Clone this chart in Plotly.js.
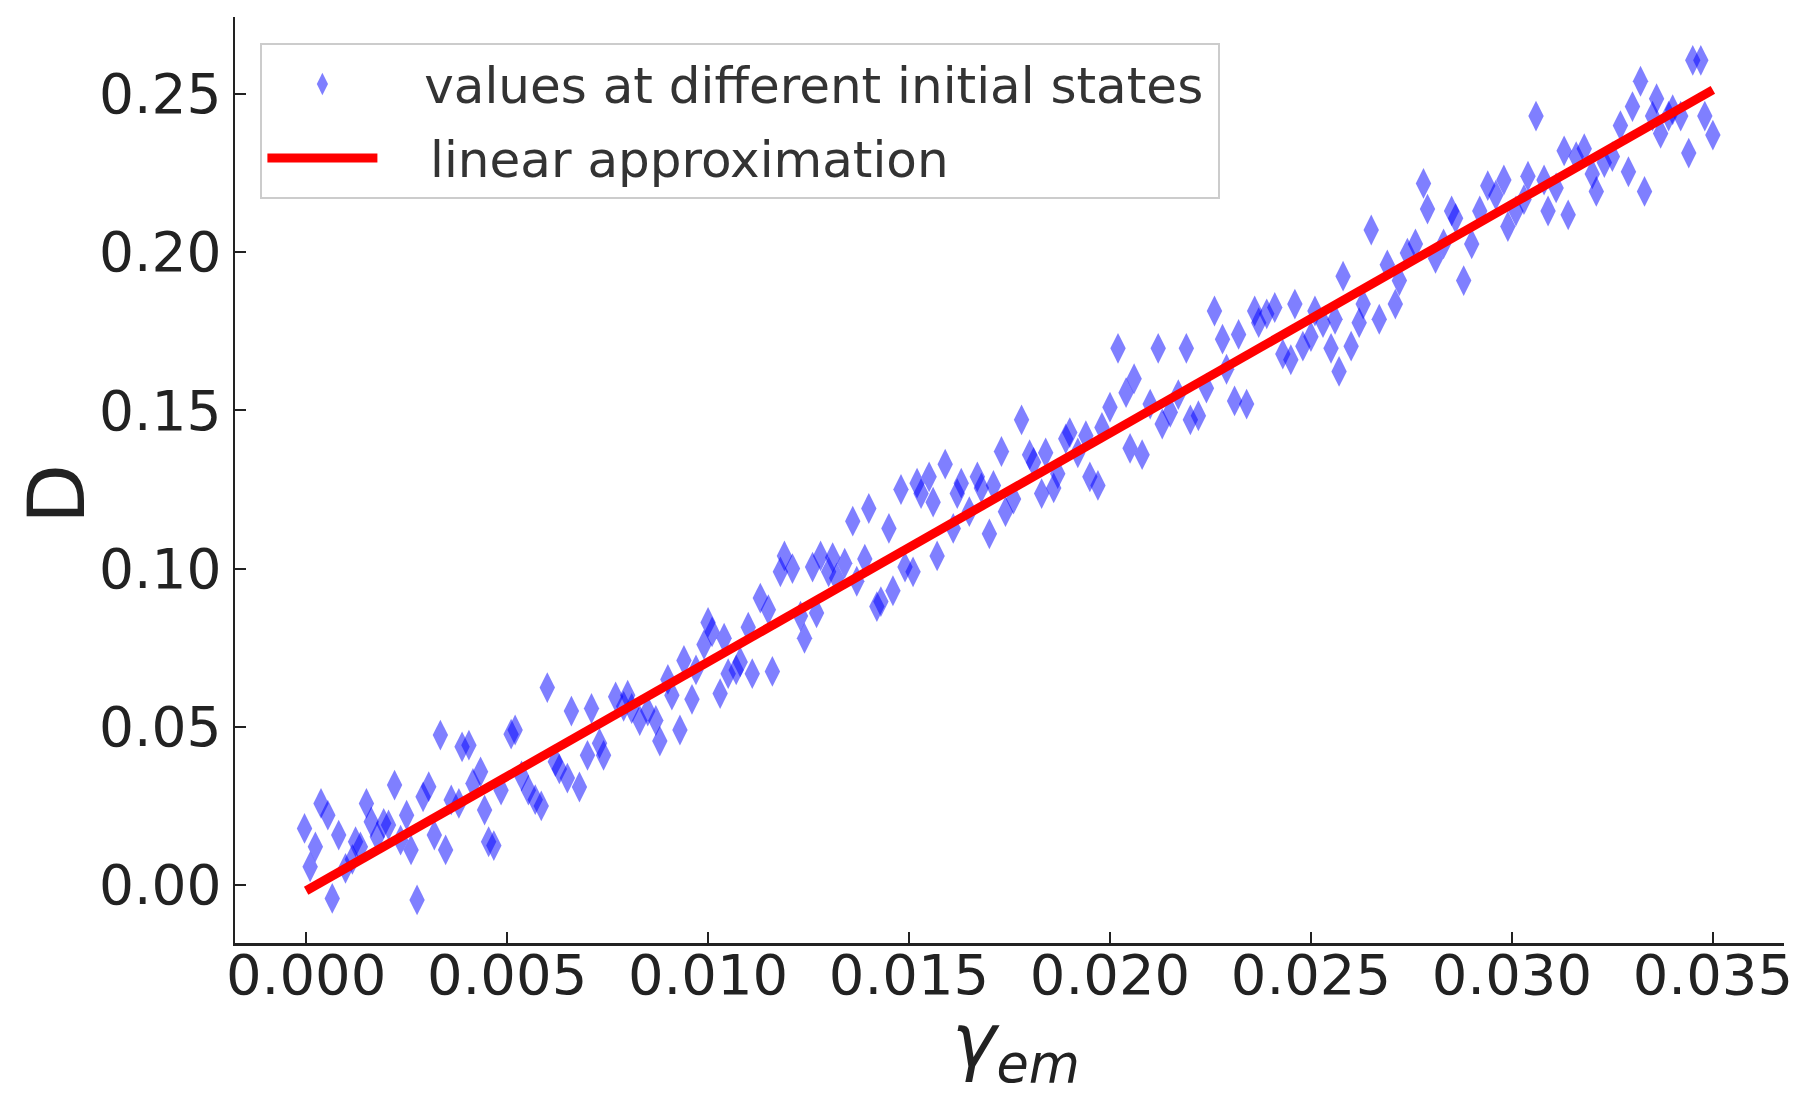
<!DOCTYPE html>
<html>
<head>
<meta charset="utf-8">
<script src="https://cdn.plot.ly/plotly-3.0.1.min.js"></script>
<style>
  html, body { margin: 0; padding: 0; background: #fff; }
  #chart { width: 1812px; height: 1107px; }
</style>
</head>
<body>
<div id="chart"></div>
<script>
// scatter: values at different initial states
const gammaEm = [
  -0.00004, 0.00010, 0.00023, 0.00037, 0.00054, 0.00065, 0.00081, 0.00098, 0.00115, 0.00123,
  0.00135, 0.00150, 0.00162, 0.00177, 0.00193, 0.00205, 0.00220, 0.00235, 0.00250, 0.00261,
  0.00276, 0.00291, 0.00305, 0.00319, 0.00334, 0.00347, 0.00361, 0.00380, 0.00388, 0.00405,
  0.00415, 0.00434, 0.00444, 0.00454, 0.00467, 0.00485, 0.00510, 0.00520, 0.00536, 0.00553,
  0.00570, 0.00585, 0.00600, 0.00620, 0.00630, 0.00650, 0.00660, 0.00680, 0.00700, 0.00710,
  0.00730, 0.00740, 0.00770, 0.00790, 0.00800, 0.00810, 0.00830, 0.00850, 0.00870, 0.00880,
  0.00900, 0.00910, 0.00930, 0.00940, 0.00960, 0.00970, 0.00990, 0.01000, 0.01010, 0.01030,
  0.01040, 0.01050, 0.01070, 0.01080, 0.01100, 0.01110, 0.01130, 0.01150, 0.01160, 0.01180,
  0.01190, 0.01210, 0.01230, 0.01240, 0.01260, 0.01270, 0.01280, 0.01300, 0.01310, 0.01320,
  0.01340, 0.01360, 0.01370, 0.01390, 0.01400, 0.01420, 0.01430, 0.01450, 0.01460, 0.01480,
  0.01490, 0.01510, 0.01520, 0.01530, 0.01550, 0.01560, 0.01570, 0.01590, 0.01610, 0.01620,
  0.01630, 0.01650, 0.01670, 0.01680, 0.01700, 0.01710, 0.01730, 0.01740, 0.01760, 0.01780,
  0.01800, 0.01810, 0.01830, 0.01840, 0.01860, 0.01870, 0.01890, 0.01900, 0.01920, 0.01940,
  0.01950, 0.01970, 0.01980, 0.02000, 0.02020, 0.02040, 0.02050, 0.02060, 0.02080, 0.02100,
  0.02120, 0.02130, 0.02150, 0.02170, 0.02190, 0.02200, 0.02220, 0.02240, 0.02260, 0.02280,
  0.02290, 0.02310, 0.02320, 0.02340, 0.02360, 0.02370, 0.02390, 0.02410, 0.02430, 0.02450,
  0.02460, 0.02480, 0.02500, 0.02510, 0.02530, 0.02550, 0.02560, 0.02570, 0.02580, 0.02600,
  0.02620, 0.02630, 0.02650, 0.02670, 0.02690, 0.02710, 0.02720, 0.02740, 0.02760, 0.02780,
  0.02790, 0.02810, 0.02830, 0.02850, 0.02860, 0.02880, 0.02900, 0.02920, 0.02940, 0.02960,
  0.02980, 0.02990, 0.03010, 0.03030, 0.03040, 0.03060, 0.03080, 0.03090, 0.03110, 0.03130,
  0.03140, 0.03160, 0.03180, 0.03200, 0.03210, 0.03230, 0.03250, 0.03270, 0.03290, 0.03300,
  0.03320, 0.03330, 0.03350, 0.03360, 0.03370, 0.03390, 0.03400, 0.03420, 0.03440, 0.03450,
  0.03470, 0.03480, 0.03500
];
const dValues = [
  0.0179, 0.0058, 0.0121, 0.0258, 0.0221, -0.0042, 0.0158, 0.0053, 0.0081, 0.0137,
  0.0121, 0.0258, 0.0200, 0.0153, 0.0195, 0.0190, 0.0316, 0.0142, 0.0221, 0.0111,
  -0.0047, 0.0279, 0.0311, 0.0158, 0.0474, 0.0111, 0.0269, 0.0258, 0.0437, 0.0442,
  0.0321, 0.0358, 0.0237, 0.0137, 0.0125, 0.0300, 0.0477, 0.0490, 0.0345, 0.0300,
  0.0270, 0.0250, 0.0624, 0.0390, 0.0367, 0.0338, 0.0550, 0.0310, 0.0410, 0.0558,
  0.0448, 0.0410, 0.0595, 0.0565, 0.0600, 0.0558, 0.0520, 0.0550, 0.0520, 0.0455,
  0.0650, 0.0600, 0.0490, 0.0710, 0.0587, 0.0680, 0.0760, 0.0830, 0.0800, 0.0605,
  0.0780, 0.0668, 0.0680, 0.0705, 0.0815, 0.0668, 0.0907, 0.0870, 0.0675, 0.0990,
  0.1040, 0.1000, 0.0850, 0.0780, 0.1005, 0.0860, 0.1040, 0.0990, 0.1035, 0.0970,
  0.1017, 0.1150, 0.0960, 0.1030, 0.1190, 0.0880, 0.0896, 0.1127, 0.0930, 0.1250,
  0.1005, 0.0990, 0.1270, 0.1237, 0.1290, 0.1210, 0.1040, 0.1330, 0.1127, 0.1237,
  0.1270, 0.1180, 0.1290, 0.1255, 0.1110, 0.1263, 0.1370, 0.1180, 0.1220, 0.1470,
  0.1360, 0.1336, 0.1237, 0.1366, 0.1255, 0.1300, 0.1410, 0.1430, 0.1366, 0.1420,
  0.1290, 0.1263, 0.1446, 0.1510, 0.1696, 0.1556, 0.1380, 0.1600, 0.1360, 0.1520,
  0.1696, 0.1457, 0.1494, 0.1550, 0.1696, 0.1470, 0.1483, 0.1570, 0.1814, 0.1725,
  0.1630, 0.1530, 0.1740, 0.1520, 0.1814, 0.1777, 0.1805, 0.1825, 0.1678, 0.1660,
  0.1836, 0.1703, 0.1733, 0.1814, 0.1777, 0.1696, 0.1788, 0.1623, 0.1924, 0.1703,
  0.1777, 0.1836, 0.2070, 0.1788, 0.1960, 0.1836, 0.1910, 0.1997, 0.2026, 0.2217,
  0.2136, 0.1980, 0.2026, 0.2130, 0.2107, 0.1910, 0.2026, 0.2130, 0.2210, 0.2180,
  0.2228, 0.2081, 0.2130, 0.2166, 0.2240, 0.2430, 0.2228, 0.2130, 0.2203, 0.2320,
  0.2118, 0.2302, 0.2327, 0.2247, 0.2192, 0.2283, 0.2302, 0.2400, 0.2254, 0.2460,
  0.2540, 0.2192, 0.2430, 0.2485, 0.2375, 0.2430, 0.2450, 0.2430, 0.2313, 0.2606,
  0.2606, 0.2430, 0.2370
];
// linear approximation
const fitX = [0.0, 0.035];
const fitY = [-0.0018, 0.2513];

const xTickVals = [0, 0.005, 0.01, 0.015, 0.02, 0.025, 0.03, 0.035];
const xTickText = ['0.000', '0.005', '0.010', '0.015', '0.020', '0.025', '0.030', '0.035'];
const yTickVals = [0, 0.05, 0.1, 0.15, 0.2, 0.25];
const yTickText = ['0.00', '0.05', '0.10', '0.15', '0.20', '0.25'];

const scatterLabel = 'values at different initial states';
const fitLabel = 'linear approximation';
const xTitle = '<i>γ<sub>em</sub></i>';
const yTitle = 'D';

const FONT = 'DejaVu Sans, sans-serif';
const NB = '\u00a0';
const THIN = '\u2009';
const X_RANGE = [-0.00177, 0.03677];

const traces = [
  {
    type: 'scatter', mode: 'markers',
    x: gammaEm, y: dValues,
    name: NB + NB + THIN + scatterLabel + THIN,
    legendgroup: 'a',
    marker: { symbol: 'diamond-tall', size: 22, color: 'rgba(0,0,255,0.5)', line: { width: 0 } }
  },
  {
    type: 'scatter', mode: 'lines',
    x: fitX, y: fitY,
    xaxis: 'x2', yaxis: 'y',
    name: NB + NB + NB + fitLabel,
    legendgroup: 'b',
    line: { color: '#ff0000', width: 9 }
  }
];

const layout = {
  width: 1812, height: 1107,
  paper_bgcolor: '#ffffff', plot_bgcolor: '#ffffff',
  margin: { l: 235, r: 28, t: 17, b: 164 },
  font: { family: FONT, color: '#222222' },
  showlegend: true,
  legend: {
    x: 0.0164, y: 0.9720, xanchor: 'left', yanchor: 'top',
    bgcolor: 'rgba(255,255,255,0.8)', bordercolor: '#cccccc', borderwidth: 2,
    font: { family: FONT, size: 50, color: '#333333' },
    itemwidth: 110,
    traceorder: 'grouped', tracegroupgap: 6
  },
  xaxis: {
    range: X_RANGE,
    tickmode: 'array', tickvals: xTickVals, ticktext: xTickText,
    ticks: 'inside', ticklen: 11, tickwidth: 2, tickcolor: '#222222',
    showline: true, linecolor: '#222222', linewidth: 2.5, mirror: false,
    showgrid: false, zeroline: false,
    showticklabels: false
  },
  // same scale as xaxis; carries the tick labels, placed close under the spine
  xaxis2: {
    overlaying: 'x', anchor: 'free', position: 0.006, side: 'bottom',
    range: X_RANGE,
    tickmode: 'array', tickvals: xTickVals, ticktext: xTickText,
    ticks: '', showline: false, showgrid: false, zeroline: false,
    tickfont: { family: FONT, size: 56, color: '#222222' }
  },
  yaxis: {
    range: [-0.0183, 0.2743],
    tickmode: 'array', tickvals: yTickVals, ticktext: yTickText,
    ticks: 'inside', ticklen: 11, tickwidth: 2, tickcolor: '#222222',
    showline: true, linecolor: '#222222', linewidth: 2.5, mirror: false,
    showgrid: false, zeroline: false,
    tickfont: { family: FONT, size: 55, color: '#222222' }
  },
  annotations: [
    {
      text: yTitle, xref: 'paper', yref: 'paper',
      x: -0.1153, y: 0.4854, xanchor: 'center', yanchor: 'middle',
      textangle: -90, showarrow: false,
      font: { family: FONT, size: 78, color: '#222222' }
    },
    {
      text: xTitle, xref: 'paper', yref: 'paper',
      x: 0.5043, y: -0.1101, xanchor: 'center', yanchor: 'middle',
      showarrow: false,
      font: { family: FONT, size: 75, color: '#222222' }
    }
  ]
};

Plotly.newPlot('chart', traces, layout, { displayModeBar: false, staticPlot: true });
</script>
</body>
</html>
